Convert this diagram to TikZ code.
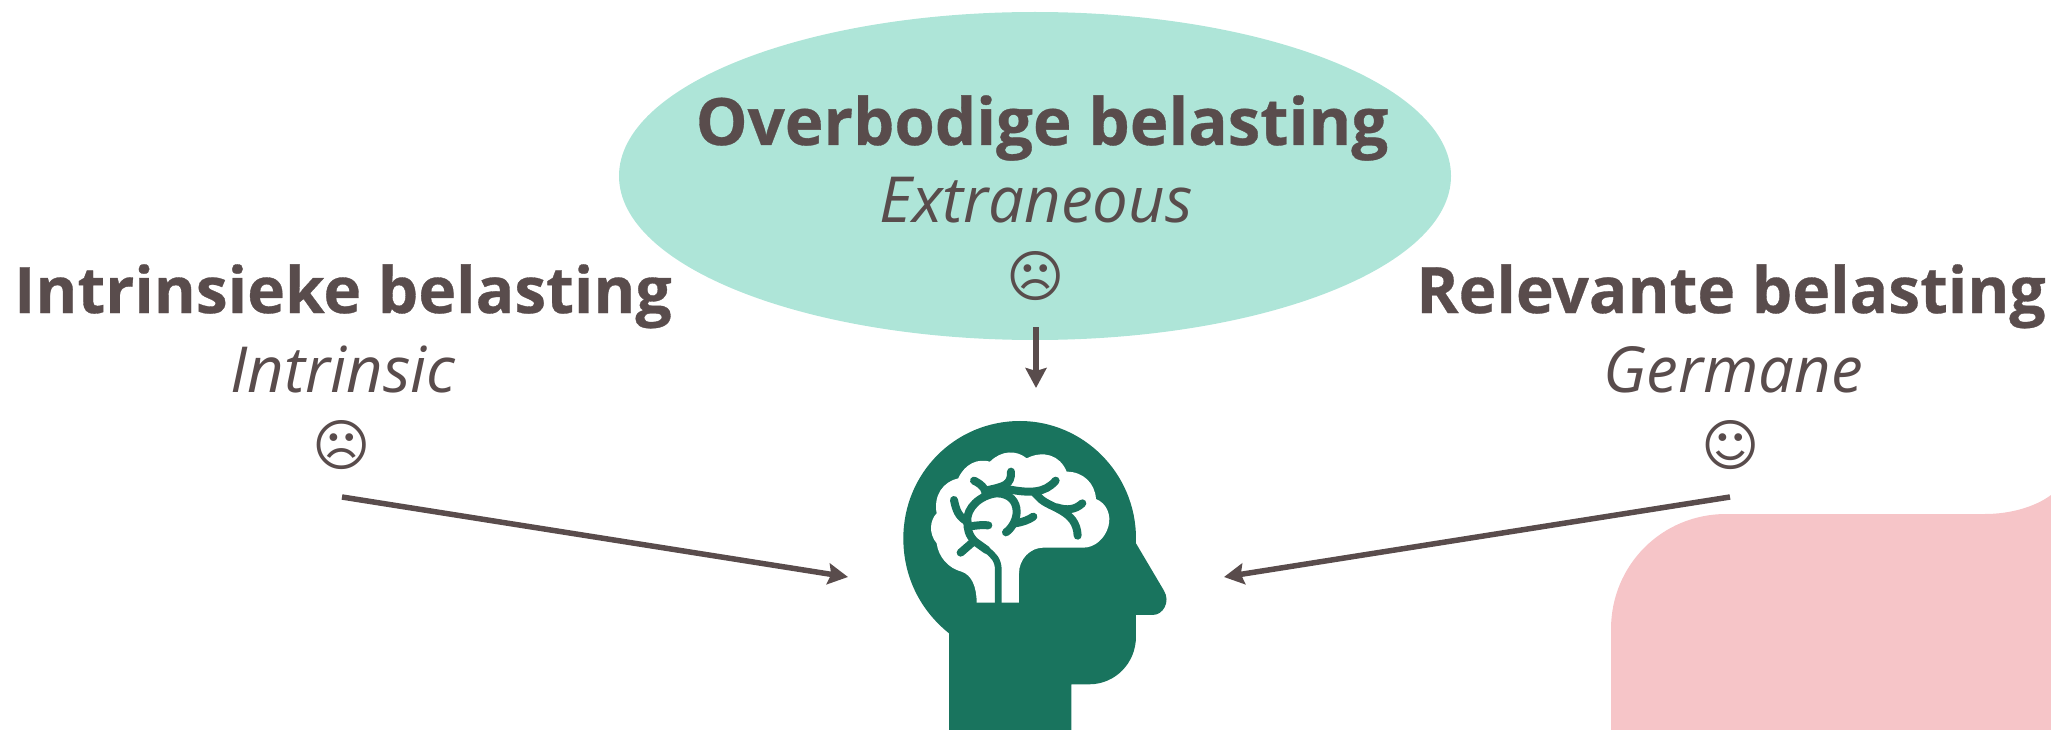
\documentclass[tikz,border=0pt]{standalone}
\usepackage{fontspec}
\setmainfont{Open Sans}
\newfontfamily\headf{Open Sans}[BoldFeatures={FakeBold=0.5}]
\newfontfamily\facef{DejaVu Sans}
\usetikzlibrary{arrows.meta}
\definecolor{ink}{HTML}{594C4C}
\definecolor{mint}{HTML}{AEE5D8}
\definecolor{rose}{HTML}{F6C5C8}
\definecolor{headgreen}{HTML}{19745E}
\tikzset{
  heading/.style={text=ink,inner sep=0pt,anchor=base,font=\headf\fontsize{64}{70}\selectfont\bfseries},
  bigheading/.style={text=ink,inner sep=0pt,anchor=base,font=\headf\fontsize{65.3}{70}\selectfont\bfseries},
  subtitle/.style={text=ink,inner sep=0pt,anchor=base,font=\fontsize{63.5}{70}\selectfont\itshape},
  mood/.style={text=ink,inner sep=0pt,anchor=center,font=\facef\fontsize{56}{60}\selectfont},
  loadarrow/.style={draw=ink,line width=5.5pt,-{Stealth[length=20pt,width=21pt,inset=3pt]}},
  branch/.style={draw=headgreen,line width=8pt,line cap=round,line join=round}
}
\begin{document}
\begin{tikzpicture}[x=1pt,y=-1pt]
\useasboundingbox (0,0) rectangle (2051,730);
\fill[rose] (1611,730) -- (1611,629) .. controls (1611,565) and (1662,514) .. (1726,514)
  -- (1985,514) .. controls (2010,514) and (2035,507) .. (2051,495) -- (2051,730) -- cycle;
\fill[mint] (1035,176) ellipse [x radius=416, y radius=164];
\node[bigheading] (tO) at (1042,145) {Overbodige belasting};
\node[subtitle] (sO) at (1036,223) {Extraneous};
\node[mood] (fO) at (1036,276) {☹};
\node[heading] (tI) at (343,313) {Intrinsieke belasting};
\node[subtitle] (sI) at (343,392) {Intrinsic};
\node[mood] (fI) at (342,445) {☹};
\node[heading] (tR) at (1731,313) {Relevante belasting};
\node[subtitle] (sR) at (1733,392) {Germane};
\node[mood] (fR) at (1731,445) {☺};
\begin{scope}[shift={(880,400)},x=0.3333pt,y=-0.3333pt]
\fill[headgreen] (207,990) -- (207,700) .. controls (120,630) and (70,530) .. (70,415)
  .. controls (70,220) and (225,63) .. (420,63)
  .. controls (610,63) and (768,220) .. (768,415) -- (768,430) -- (852,572)
  .. controls (872,605) and (850,645) .. (818,645) -- (768,645) -- (768,710)
  .. controls (768,790) and (705,853) .. (628,853) -- (574,853) -- (574,990) -- cycle;
\fill[white] (290,608) .. controls (290,560) and (275,525) .. (245,515)
  .. controls (205,505) and (175,470) .. (170,430)
  .. controls (145,400) and (150,360) .. (170,340)
  .. controls (160,285) and (190,245) .. (235,235)
  .. controls (255,190) and (295,175) .. (330,185)
  .. controls (365,150) and (410,150) .. (440,175)
  .. controls (490,150) and (540,165) .. (560,215)
  .. controls (610,215) and (645,250) .. (648,297)
  .. controls (680,310) and (695,345) .. (685,380)
  .. controls (675,415) and (645,443) .. (610,443)
  -- (490,443) .. controls (450,443) and (417,478) .. (417,520)
  -- (417,608) -- cycle;
\draw[branch,line width=6.7pt,line cap=butt] (355,612) -- (355,510) .. controls (355,480) and (340,465) .. (320,450)
  -- (290,428);
\draw[branch] (320,450) -- (285,425) .. controls (265,405) and (262,385) .. (262,365);
\draw[branch] (280,425) -- (242,458);
\draw[branch] (262,365) .. controls (235,350) and (228,330) .. (222,300);
\draw[branch] (262,365) .. controls (258,325) and (300,285) .. (350,280)
  .. controls (390,280) and (410,305) .. (410,335) .. controls (410,360) and (395,385) .. (378,397);
\draw[branch] (405,370) .. controls (430,366) and (445,360) .. (460,350);
\draw[branch] (315,288) .. controls (322,275) and (310,255) .. (282,242);
\draw[branch] (325,270) .. controls (370,260) and (395,255) .. (393,215);
\draw[branch] (375,284) -- (385,268) .. controls (450,280) and (495,280) .. (527,242);
\draw[branch] (465,280) -- (480,295) .. controls (510,325) and (590,330) .. (593,407);
\draw[branch] (530,322) .. controls (560,332) and (585,330) .. (607,310);
\draw[branch] (268,380) .. controls (290,375) and (310,375) .. (325,376);
\end{scope}
\coordinate (aI) at (342,497);
\coordinate (bI) at (848,577);
\coordinate (aR) at (1730,497);
\coordinate (bR) at (1224,577);
\coordinate (aO) at (1036,327);
\coordinate (bO) at (1036,388);
\draw[loadarrow] (aI) -- (bI);
\draw[loadarrow] (aR) -- (bR);
\draw[loadarrow] (aO) -- (bO);
\end{tikzpicture}
\end{document}
